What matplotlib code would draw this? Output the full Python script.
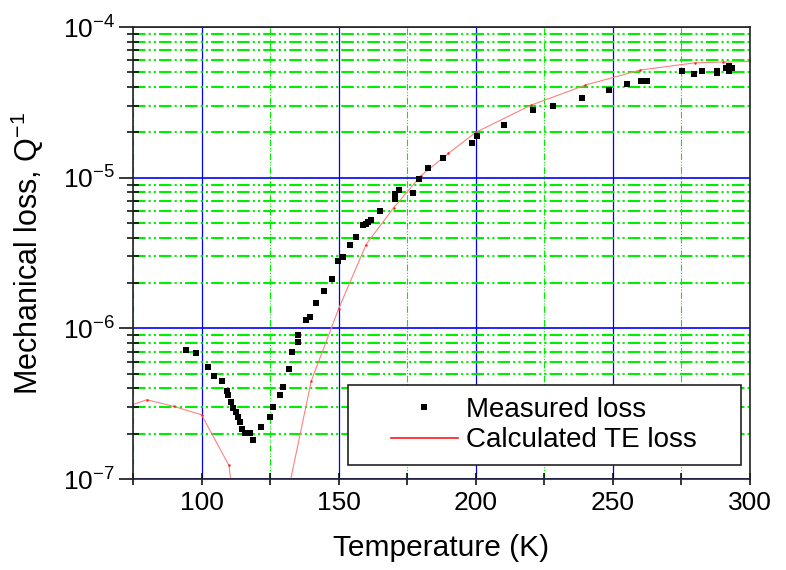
import matplotlib
matplotlib.use('Agg')
import matplotlib.pyplot as plt
from matplotlib.lines import Line2D
from matplotlib.patches import Rectangle
from matplotlib.ticker import MultipleLocator, LogLocator, NullFormatter, LogFormatterMathtext

plt.rcParams['font.family'] = ['Liberation Sans', 'DejaVu Sans']
plt.rcParams['mathtext.fontset'] = 'custom'
plt.rcParams['mathtext.rm'] = 'Liberation Sans'
plt.rcParams['mathtext.it'] = 'Liberation Sans:italic'

# measured mechanical loss vs temperature
meas_T = [94.5, 98.0, 102.4, 104.6, 107.5, 109.3, 109.7, 110.6, 111.5, 112.5,
          113.3, 114.2, 114.9, 115.8, 117.6, 118.8, 121.8, 124.9, 126.1, 128.5,
          129.7, 131.9, 133.1, 135.2, 135.2, 138.2, 139.4, 141.9, 144.5, 147.7,
          149.7, 151.6, 154.0, 156.4, 158.8, 160.0, 160.7, 161.9, 164.9, 170.7,
          170.7, 171.9, 177.0, 179.2, 182.5, 188.0, 198.7, 200.3, 210.4, 221.0,
          228.0, 238.9, 248.4, 255.3, 260.2, 262.6, 275.1, 279.6, 282.6, 287.8,
          288.0, 291.1, 292.3, 293.5, 292.5]
meas_loss = [7.15e-7, 6.9e-7, 5.5e-7, 4.83e-7, 4.47e-7, 3.84e-7, 3.6e-7, 3.24e-7, 2.98e-7, 2.79e-7,
             2.58e-7, 2.4e-7, 2.16e-7, 2.02e-7, 2.02e-7, 1.82e-7, 2.21e-7, 2.58e-7, 3.0e-7, 3.6e-7,
             4.07e-7, 5.4e-7, 6.97e-7, 8.1e-7, 9.0e-7, 1.13e-6, 1.19e-6, 1.47e-6, 1.77e-6, 2.14e-6,
             2.8e-6, 2.97e-6, 3.55e-6, 4.03e-6, 4.83e-6, 4.94e-6, 5.07e-6, 5.25e-6, 6.0e-6, 7.2e-6,
             7.8e-6, 8.3e-6, 7.95e-6, 9.8e-6, 1.16e-5, 1.35e-5, 1.7e-5, 1.9e-5, 2.24e-5, 2.8e-5,
             3.0e-5, 3.4e-5, 3.84e-5, 4.17e-5, 4.36e-5, 4.4e-5, 5.13e-5, 4.9e-5, 5.08e-5, 5.07e-5,
             4.94e-5, 5.37e-5, 5.5e-5, 5.37e-5, 5.13e-5]

# calculated thermoelastic loss
te_T = [70, 80, 90, 100, 110, 120, 130, 140, 150, 160, 170, 180, 190, 200,
        220, 240, 260, 280, 290, 300]
te_loss = [2.9e-7, 3.36e-7, 3.03e-7, 2.67e-7, 1.23e-7, 4e-9, 6e-8, 4.47e-7, 1.35e-6, 3.6e-6,
           6.3e-6, 1.03e-5, 1.45e-5, 2.0e-5, 3.02e-5, 4.12e-5, 5.18e-5, 5.79e-5, 5.85e-5, 5.91e-5]

fig = plt.figure(figsize=(7.86, 5.70), dpi=100)
ax = fig.add_axes([0.1692, 0.1596, 0.785, 0.793])

ax.plot(te_T, te_loss, '-', color='#ff8080', lw=0.8, zorder=2)
ax.plot(te_T, te_loss, 'o', color='#ff2020', ms=1.8, mew=0, zorder=2)
ax.plot(meas_T, meas_loss, 's', color='black', ms=4.6, mew=0, zorder=3)

ax.set_yscale('log')
ax.set_xlim(75, 300)
ax.set_ylim(1e-7, 1e-4)

ax.xaxis.set_major_locator(MultipleLocator(50))
ax.xaxis.set_minor_locator(MultipleLocator(25))
ax.yaxis.set_major_locator(LogLocator(base=10))
ax.yaxis.set_major_formatter(LogFormatterMathtext())
ax.yaxis.set_minor_locator(LogLocator(base=10, subs=range(2, 10)))
ax.yaxis.set_minor_formatter(NullFormatter())

ax.set_axisbelow(True)
dashdot = (0, (6, 1.5, 1, 1.5, 1, 1.5))
ax.grid(which='major', axis='x', color='#0000ff', lw=0.9, ls='-')
ax.grid(which='major', axis='y', color='#0000ff', lw=1.2, ls='-')
ax.grid(which='minor', axis='x', color='#00ee00', lw=0.8, ls=dashdot)
ax.grid(which='minor', axis='y', color='#00ee00', lw=1.5, ls=dashdot)

for side in ax.spines:
    ax.spines[side].set_linewidth(1.2)
    ax.spines[side].set_color('#222222')

ax.tick_params(axis='x', which='both', direction='inout', length=9, width=1.1,
               labelsize=19, pad=4)
ax.tick_params(axis='y', which='major', direction='out', length=10, width=1.1,
               labelsize=19, pad=3)
ax.tick_params(axis='y', which='minor', direction='inout', length=8, width=1.1)

ax.set_xlabel('Temperature (K)', fontsize=21.5, labelpad=14)
ax.set_ylabel('Mechanical loss, Q$^{-1}$', fontsize=22, labelpad=12)

# legend frame drawn separately so the entries sit centred in a wide box
box = Rectangle((0.348, 0.031), 0.637, 0.177, transform=ax.transAxes,
                facecolor='white', edgecolor='#222222', lw=1.2, zorder=4)
ax.add_patch(box)
handles = [Line2D([], [], ls='none', marker='s', color='black', ms=3.8, mew=0),
           Line2D([], [], color='#ff1a1a', lw=1.2)]
leg = ax.legend(handles, ['Measured loss', 'Calculated TE loss'], loc='center',
                bbox_to_anchor=(0.666, 0.119), frameon=False, fontsize=20,
                handlelength=2.4, handletextpad=0.3, labelspacing=0.15)
leg.set_zorder(5)

fig.savefig('out.png', dpi=100)
